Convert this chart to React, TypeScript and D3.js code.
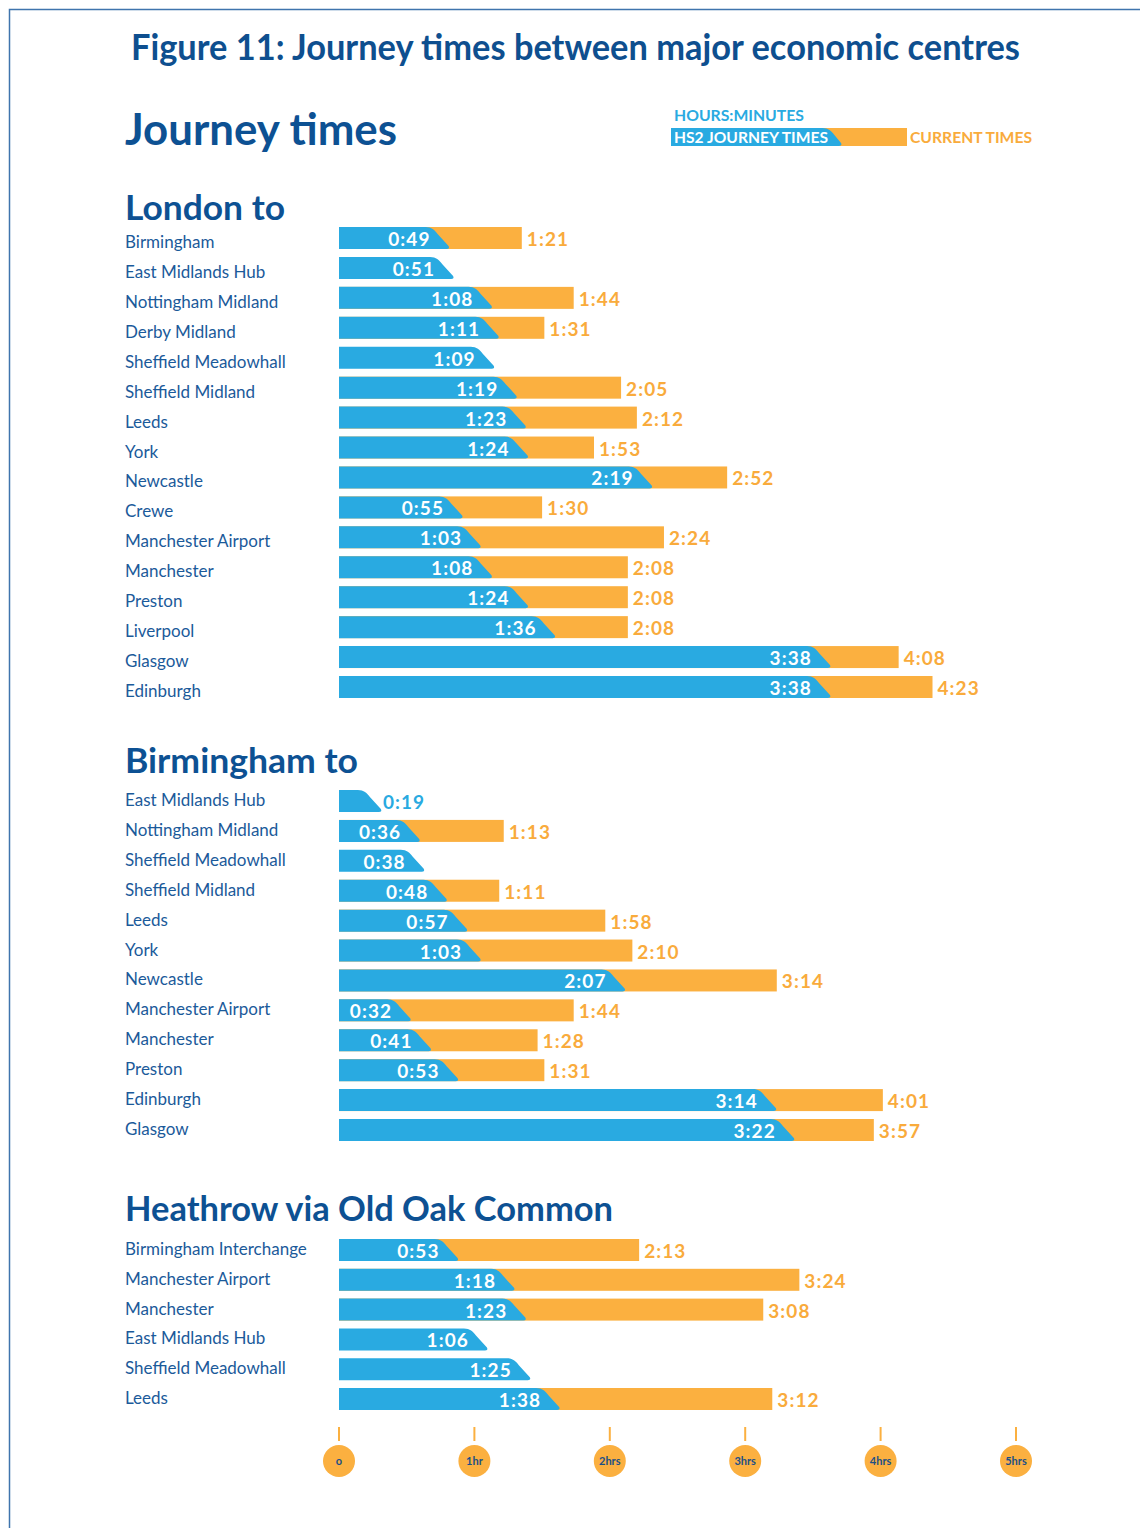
import React from "react";
import * as d3 from "d3";

// ---------- DATA (minutes) ----------
const londonNames = ["Birmingham","East Midlands Hub","Nottingham Midland","Derby Midland","Sheffield Meadowhall","Sheffield Midland","Leeds","York","Newcastle","Crewe","Manchester Airport","Manchester","Preston","Liverpool","Glasgow","Edinburgh"];
const londonHS2 = [49,51,68,71,69,79,83,84,139,55,63,68,84,96,218,218];
const londonCurrent: (number|null)[] = [81,null,104,91,null,125,132,113,172,90,144,128,128,128,248,263];

const birminghamNames = ["East Midlands Hub","Nottingham Midland","Sheffield Meadowhall","Sheffield Midland","Leeds","York","Newcastle","Manchester Airport","Manchester","Preston","Edinburgh","Glasgow"];
const birminghamHS2 = [19,36,38,48,57,63,127,32,41,53,194,202];
const birminghamCurrent: (number|null)[] = [null,73,null,71,118,130,194,104,88,91,241,237];

const heathrowNames = ["Birmingham Interchange","Manchester Airport","Manchester","East Midlands Hub","Sheffield Meadowhall","Leeds"];
const heathrowHS2 = [53,78,83,66,85,98];
const heathrowCurrent: (number|null)[] = [133,204,188,null,null,192];

const axisTicks = [0,60,120,180,240,300];
const axisLabels = ["o","1hr","2hrs","3hrs","4hrs","5hrs"];

// ---------- STYLE ----------
const BLUE = "#29aae1";
const ORANGE = "#fbb040";
const ORANGE_TXT = "#f9ab3c";
const DARK = "#0d5193";
const LABEL = "#1b5a9a";
const FONT = "Lato, 'Open Sans', sans-serif";

const x = d3.scaleLinear().domain([0, 300]).range([339, 1016]);
const fmt = (m: number) => `${Math.floor(m / 60)}:${String(m % 60).padStart(2, "0")}`;

function bluePath(x0: number, t: number, yc: number, h: number) {
  const top = yc - h / 2, bot = yc + h / 2;
  const s = h * 1.09;
  const p = d3.path();
  p.moveTo(x0, top);
  p.lineTo(t - s, top);
  p.bezierCurveTo(t - s + 6, top, t - s + 9, top + 3, t - s + 12, top + 7);
  p.lineTo(t - 1, bot - 3);
  p.quadraticCurveTo(t + 0.5, bot, t - 3, bot);
  p.lineTo(x0, bot);
  p.closePath();
  return p.toString();
}

function Section({ title, titleY, titleLen, names, hs2, cur, firstY, lastY, labelDy }: any) {
  const y = d3.scalePoint<string>().domain(names).range([firstY, lastY]);
  const H = 22;
  const numStyle = { letterSpacing: "1.1px" };
  return (
    <g>
      <text x={125} y={titleY} fontFamily={FONT} fontWeight={700} fontSize={35} fill={DARK}
        textLength={titleLen} lengthAdjust="spacingAndGlyphs">{title}</text>
      {names.map((n: string, i: number) => {
        const yc = y(n)!;
        const h = hs2[i];
        const c = cur[i];
        const tip = x(h);
        const inside = h >= 25;
        return (
          <g key={n}>
            <text x={125} y={yc + labelDy} fontFamily={FONT} fontSize={17} fill={LABEL}>{n}</text>
            {c != null && (
              <rect x={x(0)} y={yc - H / 2} width={x(c) - x(0)} height={H} fill={ORANGE} />
            )}
            <path d={bluePath(x(0), tip, yc, H)} fill={BLUE} />
            {inside ? (
              <text x={tip - 19} y={yc + 8} textAnchor="end" fontFamily={FONT} fontWeight={700}
                fontSize={19} fill="#fff" style={numStyle}>{fmt(h)}</text>
            ) : (
              <text x={tip + 1} y={yc + 8} fontFamily={FONT} fontWeight={700}
                fontSize={19} fill={BLUE} style={numStyle}>{fmt(h)}</text>
            )}
            {c != null && (
              <text x={x(c) + 5} y={yc + 8} fontFamily={FONT} fontWeight={700}
                fontSize={19} fill={ORANGE_TXT} style={numStyle}>{fmt(c)}</text>
            )}
          </g>
        );
      })}
    </g>
  );
}

export default function App() {
  return (
    <div style={{ position: "absolute", left: 0, top: 0 }}>
      <svg width={1140} height={1528} style={{ display: "block", background: "#fff" }}>
        <path d="M9.5,1528 V9.5 H1140" fill="none" stroke="#3f74ad" strokeWidth={1.5} />
        <text x={131} y={60} fontFamily={FONT} fontWeight={700} fontSize={37} fill="#0e4f8f"
          textLength={889} lengthAdjust="spacingAndGlyphs">Figure 11: Journey times between major economic centres</text>
        <text x={125} y={145} fontFamily={FONT} fontWeight={700} fontSize={43} fill={DARK}
          textLength={272} lengthAdjust="spacingAndGlyphs">Journey times</text>

        {/* Legend */}
        <text x={674} y={121} fontFamily={FONT} fontWeight={700} fontSize={14.5} fill={BLUE}
          textLength={130} lengthAdjust="spacingAndGlyphs">HOURS:MINUTES</text>
        <rect x={671} y={128} width={236} height={18} fill={ORANGE} />
        <path d={bluePath(671, 842, 137, 18)} fill={BLUE} />
        <text x={674} y={143} fontFamily={FONT} fontWeight={700} fontSize={14.5} fill="#fff"
          textLength={154} lengthAdjust="spacingAndGlyphs">HS2 JOURNEY TIMES</text>
        <text x={910} y={143} fontFamily={FONT} fontWeight={700} fontSize={14.5} fill={ORANGE_TXT}
          textLength={122} lengthAdjust="spacingAndGlyphs">CURRENT TIMES</text>

        <Section title="London to" titleY={220} titleLen={160} names={londonNames} hs2={londonHS2}
          cur={londonCurrent} firstY={238} lastY={687} labelDy={10} />
        <Section title="Birmingham to" titleY={773} titleLen={233} names={birminghamNames} hs2={birminghamHS2}
          cur={birminghamCurrent} firstY={801} lastY={1130} labelDy={5} />
        <Section title="Heathrow via Old Oak Common" titleY={1221} titleLen={488} names={heathrowNames} hs2={heathrowHS2}
          cur={heathrowCurrent} firstY={1250} lastY={1399} labelDy={5} />

        {/* Axis */}
        {axisTicks.map((t, i) => (
          <g key={t}>
            <line x1={x(t)} x2={x(t)} y1={1427} y2={1441} stroke={ORANGE} strokeWidth={2} />
            <circle cx={x(t)} cy={1461} r={16} fill={ORANGE} />
            <text x={x(t)} y={1465} textAnchor="middle" fontFamily={FONT} fontWeight={700}
              fontSize={11} fill="#1b4f86">{axisLabels[i]}</text>
          </g>
        ))}
      </svg>
    </div>
  );
}
